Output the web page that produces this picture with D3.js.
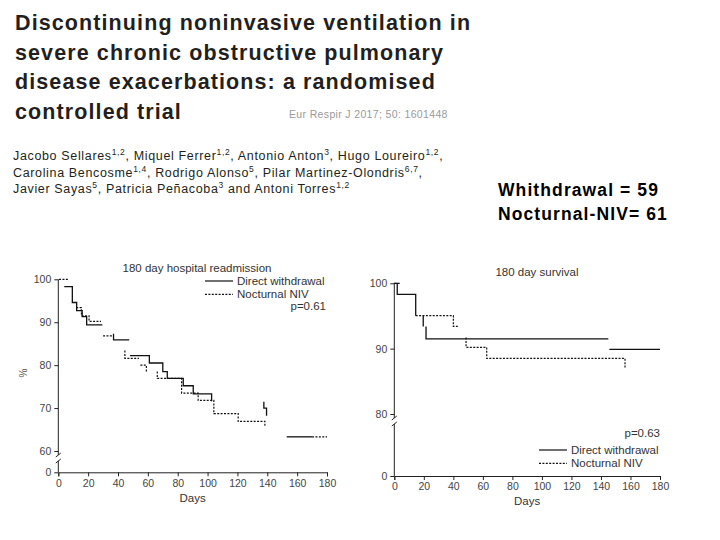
<!DOCTYPE html>
<html>
<head>
<meta charset="utf-8">
<script src="https://cdn.jsdelivr.net/npm/d3@7"></script>
<style>
  body { margin: 0; background: #fff; }
  svg { display: block; }
  text { font-family: "Liberation Sans", Arial, sans-serif; }
</style>
</head>
<body>
<svg id="slide" width="720" height="540"></svg>
<script>
// ---- data ----
var titleLines = ["Discontinuing noninvasive ventilation in",
                  "severe chronic obstructive pulmonary",
                  "disease exacerbations: a randomised",
                  "controlled trial"];
var journalRef = "Eur Respir J 2017; 50: 1601448";
// [name, superscript] pairs per line
var authorLines = [
  [["Jacobo Sellares", "1,2"], [", Miquel Ferrer", "1,2"], [", Antonio Anton", "3"], [", Hugo Loureiro", "1,2"], [",", ""]],
  [["Carolina Bencosme", "1,4"], [", Rodrigo Alonso", "5"], [", Pilar Martinez-Olondris", "6,7"], [",", ""]],
  [["Javier Sayas", "5"], [", Patricia Peñacoba", "3"], [" and Antoni Torres", "1,2"]]
];
var groupNotes = ["Whithdrawal = 59", "Nocturnal-NIV= 61"];

var seriesNames = ["Direct withdrawal", "Nocturnal NIV"];
var dayTicks = [0, 20, 40, 60, 80, 100, 120, 140, 160, 180];
var readmitTicks = [0, 60, 70, 80, 90, 100];
var survivalTicks = [0, 80, 90, 100];

// step curves, as visible pieces of [day, %] (step after each point)
var readmitWithdrawal = [
  [[4, 98.3], [9.4, 94.6], [12.3, 92.7], [16, 91.3], [19, 89.4], [29.5, 89.4]],
  [[37, 87.3], [37, 85.9], [47.5, 85.9]],
  [[48, 82.2], [61, 80.5], [70, 78.5], [73, 76.9], [83.7, 75.2], [90.4, 73.3], [102.7, 71.6]],
  [[137.7, 71.5], [137.7, 70], [139.5, 70], [139.5, 68.2]],
  [[153, 63.3], [170, 63.3]]
];
var readmitNocturnal = [
  [[0.5, 100], [7, 100]],
  [[12, 93.4], [15.5, 91.5], [20.6, 90.2], [28.6, 90.2]],
  [[30, 86.8], [37, 86.8]],
  [[44.6, 83.4], [44.6, 81.6], [54, 81.6]],
  [[55, 80], [59, 78.5]],
  [[66.3, 78.5], [66.3, 76.9], [82.6, 73.5], [93.7, 71.8], [104.2, 68.7], [120.5, 66.9], [138.4, 65.6]],
  [[170, 63.3], [180, 63.3]]
];
var survivalWithdrawal = [
  [[0, 100], [2, 100], [2, 98.3], [14.5, 95.05]],
  [[19.6, 95.05], [19.6, 93.4]],
  [[21.5, 93.4], [21.5, 91.5], [145, 91.5]],
  [[145.7, 89.9], [180, 89.9]]
];
var survivalNocturnal = [
  [[0, 100], [4, 100]],
  [[14.5, 95.05], [40, 93.4], [43, 93.4]],
  [[48.6, 91.7], [48.6, 90.2], [62.6, 88.5], [156.3, 87]]
];
var pValues = ["p=0.61", "p=0.63"];
var panelTitles = ["180 day hospital readmission", "180 day survival"];

var svg = d3.select("#slide");

// ---- title block ----
titleLines.forEach(function(t, i) {
  svg.append("text")
    .attr("x", 15).attr("y", 30 + i * 29.5)
    .attr("font-size", 21.5).attr("font-weight", "bold")
    .attr("letter-spacing", 1.1)
    .attr("fill", "#231f20")
    .text(t);
});
svg.append("text")
  .attr("x", 289).attr("y", 118)
  .attr("font-size", 10.5).attr("fill", "#9a9a9a")
  .attr("letter-spacing", 0.35)
  .text(journalRef);

authorLines.forEach(function(line, i) {
  var t = svg.append("text")
    .attr("x", 13).attr("y", 160 + i * 16.7)
    .attr("font-size", 12.5).attr("letter-spacing", 0.65)
    .attr("fill", "#231f20");
  var shift = 0;
  line.forEach(function(p) {
    t.append("tspan").attr("dy", shift).text(p[0]);
    shift = 0;
    if (p[1]) {
      t.append("tspan").attr("dy", -5).attr("font-size", 8.5).text(p[1]);
      shift = 5;
    }
  });
});

groupNotes.forEach(function(t, i) {
  svg.append("text")
    .attr("x", 498).attr("y", 196 + i * 24)
    .attr("font-size", 17.5).attr("font-weight", "bold")
    .attr("letter-spacing", 1.1)
    .attr("fill", "#000")
    .text(t);
});

// ---- panels ----
function drawPanel(o) {
  var x = d3.scaleLinear().domain([0, 180]).range([o.x0, o.x1]);
  var y = d3.scaleLinear().domain([0, o.breakAt, 100]).range([o.yZero, o.yBreak, o.yTop]);
  var g = svg.append("g");

  // x axis
  g.append("g")
    .attr("transform", "translate(0," + o.yZero + ")")
    .call(d3.axisBottom(x).tickValues(dayTicks).tickSize(4).tickPadding(3))
    .call(function(a) {
      a.select(".domain").attr("stroke", "#222");
      a.selectAll(".tick line").attr("stroke", "#222");
      a.selectAll("text").attr("font-size", 10.5).attr("fill", "#444")
        .attr("font-family", "Liberation Sans, Arial, sans-serif");
    });

  // y axis with a break
  g.append("g")
    .attr("transform", "translate(" + o.x0 + ",0)")
    .call(d3.axisLeft(y).tickValues(o.ticks).tickSize(4).tickPadding(3))
    .call(function(a) {
      a.select(".domain").remove();
      a.selectAll(".tick line").attr("stroke", "#222");
      a.selectAll("text").attr("font-size", 10.5).attr("fill", "#444")
        .attr("font-family", "Liberation Sans, Arial, sans-serif");
    });
  var b1 = o.yBreak + 4, b2 = o.yBreak + 10;
  g.append("path")
    .attr("d", "M" + o.x0 + "," + o.yTop + "V" + b1 +
               "M" + o.x0 + "," + b2 + "V" + o.yZero)
    .attr("stroke", "#222").attr("fill", "none");
  g.append("path")
    .attr("d", "M" + (o.x0 - 2.5) + "," + (b1 + 2) + "L" + (o.x0 + 2.5) + "," + (b1 - 2) +
               "M" + (o.x0 - 2.5) + "," + (b2 + 2) + "L" + (o.x0 + 2.5) + "," + (b2 - 2))
    .attr("stroke", "#222").attr("fill", "none");

  // curves
  var line = d3.line()
    .x(function(d) { return x(d[0]); })
    .y(function(d) { return y(d[1]); })
    .curve(d3.curveStepAfter);
  o.solid.forEach(function(seg) {
    g.append("path").attr("d", line(seg))
      .attr("fill", "none").attr("stroke", "#111").attr("stroke-width", 1.3);
  });
  o.dotted.forEach(function(seg) {
    g.append("path").attr("d", line(seg))
      .attr("fill", "none").attr("stroke", "#111").attr("stroke-width", 1.2)
      .attr("stroke-dasharray", "2,1.4");
  });

  // labels
  g.append("text")
    .attr("x", o.titleX).attr("y", o.titleY)
    .attr("text-anchor", "middle").attr("font-size", 11.5).attr("fill", "#333")
    .text(o.title);
  g.append("text")
    .attr("x", (o.x0 + o.x1) / 2).attr("y", o.daysY)
    .attr("text-anchor", "middle").attr("font-size", 11.5).attr("fill", "#333")
    .text("Days");
  if (o.pct) {
    g.append("text")
      .attr("transform", "translate(" + o.pct[0] + "," + o.pct[1] + ") rotate(-90)")
      .attr("text-anchor", "middle").attr("font-size", 10).attr("fill", "#555")
      .text("%");
  }

  // legend
  seriesNames.forEach(function(name, i) {
    var ly = o.legY + i * 13.3;
    g.append("line")
      .attr("x1", o.legX).attr("x2", o.legX + 28).attr("y1", ly).attr("y2", ly)
      .attr("stroke", "#111").attr("stroke-width", 1.2)
      .attr("stroke-dasharray", i ? "2,1.4" : null);
    g.append("text")
      .attr("x", o.legX + 32).attr("y", ly + 4)
      .attr("font-size", 11.5).attr("fill", "#333")
      .text(name);
  });
  g.append("text")
    .attr("x", o.pX).attr("y", o.pY)
    .attr("text-anchor", "end").attr("font-size", 11.5).attr("fill", "#333")
    .text(o.p);
}

drawPanel({
  x0: 58.3, x1: 327, yZero: 472.3, yBreak: 451, yTop: 279.3, breakAt: 60,
  ticks: readmitTicks, solid: readmitWithdrawal, dotted: readmitNocturnal,
  title: panelTitles[0], titleX: 197, titleY: 272, daysY: 502, pct: [27, 373],
  legX: 205, legY: 281, p: pValues[0], pX: 326, pY: 310
});
drawPanel({
  x0: 394.3, x1: 660, yZero: 476, yBreak: 414, yTop: 283.3, breakAt: 80,
  ticks: survivalTicks, solid: survivalWithdrawal, dotted: survivalNocturnal,
  title: panelTitles[1], titleX: 537, titleY: 276, daysY: 505, pct: null,
  legX: 539, legY: 450, p: pValues[1], pX: 660, pY: 437
});
</script>
</body>
</html>
